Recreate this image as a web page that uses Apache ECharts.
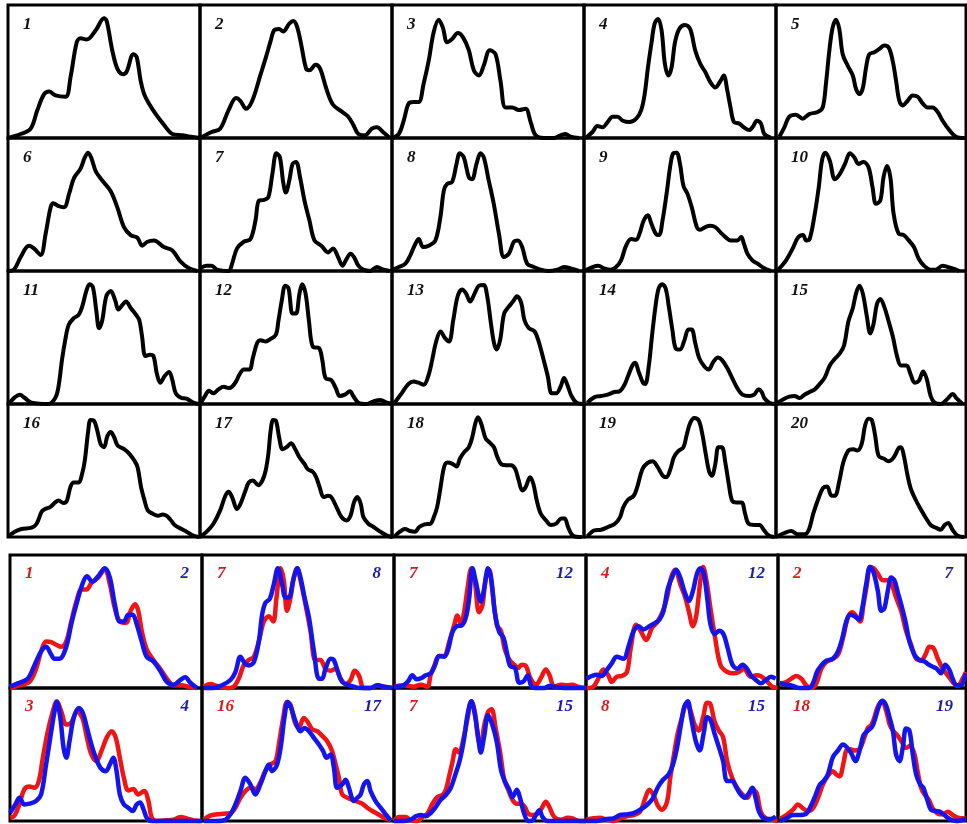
<!DOCTYPE html>
<html lang="en">
<head>
<meta charset="UTF-8">
<script src="https://cdn.jsdelivr.net/npm/echarts@6/dist/echarts.min.js"></script>
<title>curves</title>
<style>
  html, body { margin: 0; padding: 0; background: #fff; }
  #chart { width: 967px; height: 824px; }
</style>
</head>
<body>
<div id="chart"></div>
<script>
// each curve: [x %, height %]
var c1 = [[0,0],[6.6,3],[11.8,7],[15.3,21],[18.8,33],[21.4,35],[24.8,32],[30,31],[32.6,46],[35.8,72],[37.8,75],[41,74],[45.7,81],[50,90],[51.4,88],[54.3,66],[57,52],[60,48],[61.8,50],[65.3,63],[67,61],[69.1,43],[71.2,32],[76,20],[81.2,10],[85.6,3],[90.8,2],[95,1],[100,0]];
var c2 = [[0,0],[6.1,4.5],[10.5,7],[14.9,21],[18.8,30],[21,28],[24,22],[27.2,28],[31.6,48],[34.2,60],[36.8,73],[38.6,81],[41.2,82],[43.3,80],[46.5,86],[48.6,88],[50.5,84],[52.6,71],[55.3,52],[57,51],[60.2,55],[62.6,52],[65.8,37],[69.3,25],[73.7,20],[77.2,16],[79.8,10],[82.5,3],[86,2],[89.5,7],[92.1,8],[95.3,4.5],[98.8,0]];
var c3 = [[0,0],[3.5,3],[6.1,13],[8.7,26],[11.3,27],[13.9,27],[16.5,41],[19.1,58],[21.7,79.5],[24.3,89],[26.5,83],[28.7,72],[31.3,74.5],[34.3,79],[37,75.7],[40,66],[42.6,51],[45.2,47],[47.8,54.5],[50.9,66],[53.9,63],[56.5,43],[59.1,23],[62.6,23],[66.1,21],[69.6,22],[72.2,12],[74.8,2],[79.1,0],[84.3,0],[87.8,2],[90.4,3],[93,1],[97.4,0]];
var c4 = [[0.9,0],[4.4,4.5],[7,9],[9.6,8],[12.3,12],[14.9,16],[17.5,16],[20.2,13],[23.7,12],[27.2,14.5],[29.8,21],[31.6,33],[33.3,53],[35.1,71],[36.8,86],[38.6,89.5],[40.4,81],[42.1,56],[43.9,47],[45.6,53],[47.4,72],[49.6,82],[52.6,85],[55.3,82],[57.9,66],[60.5,56],[63.2,49.5],[65.8,42],[68.4,38],[71.1,43],[72.8,47],[74.6,36],[76.3,23],[78.1,12],[80.7,11],[83.3,8],[86,6],[88.2,9],[90,13],[92.1,11],[93.9,3],[97.4,0]];
var c5 = [[1.8,1],[4.4,8],[7,16],[10.5,17.5],[14,14.5],[17.5,18],[21.9,19.5],[24.6,23],[26.3,41],[28.1,66],[29.8,83],[31.6,89],[33.3,82],[35.1,63],[37.7,54.5],[40.4,47],[42.1,37],[43.9,33],[45.6,37],[47.4,53],[49.1,63],[51.8,64.5],[54.4,67],[57,69.5],[59.3,68],[61.4,58],[63.2,43],[64.9,28],[66.7,24.5],[69.3,28],[71.9,32],[74.6,31],[77.2,26],[79.8,23],[82.5,23],[85.1,19.5],[87.7,13],[91.2,6],[94.7,1],[99.1,0]];
var c6 = [[0,0],[3.1,1],[6.6,10.5],[10.9,19],[13.5,17],[17,12],[19.6,28],[22.2,48],[23.6,51],[26,49],[29.2,48],[31.8,58],[34.4,70],[37.8,77],[39.9,85],[41.7,89],[43.4,85],[45.7,75],[49.1,68],[53.5,60],[56.9,48],[60.4,33],[63.9,27],[67.4,25],[69.9,19],[72.6,22],[76,23],[81.2,18],[85.6,15.5],[89.9,7],[94.3,2],[98.6,0]];
var c7 = [[0,2],[3.5,4],[6.1,4],[8.8,1],[14.9,0],[16.7,5.5],[19.3,17],[22.8,22],[26.3,24],[28.9,38],[30.7,53],[33.3,53.5],[35.6,55.5],[37.7,73],[39.8,88.5],[41.6,85.5],[43.3,67],[44.7,59],[46.5,68],[48.2,80.5],[50,82],[52.1,70.5],[54.4,53],[57,38],[59.6,23],[63.2,19],[66.7,14],[69.3,17],[71.9,10.5],[74.2,4],[76.3,9],[78.4,13],[80.2,10.5],[82.5,4],[85.1,1],[88.6,0],[92.1,3],[95.6,1],[98.8,0]];
var c8 = [[0,0.5],[3.5,3],[7,5.5],[9.6,12],[12.2,20.5],[13.9,24],[16.2,18],[19.1,19],[22.6,23],[25.2,40.5],[27,60.5],[28.7,65.5],[31.3,67],[33.6,80.5],[35.3,88.5],[37.4,85.5],[40,70.5],[41.7,69],[44,80.5],[46.1,88.5],[47.8,85.5],[50.4,68],[53,50.5],[55.7,28],[58.3,10.5],[60.9,13],[63.5,22],[65.6,23],[67.8,18],[70.4,5.5],[73.9,3],[77.4,1],[81.7,0],[86.1,1],[89.6,3],[93,2],[97.4,0]];
var c9 = [[0.9,0.5],[4.4,3],[7.5,4],[10.5,2],[14,1],[16.7,3],[19.3,8],[21.9,19],[24.6,24],[27.2,23.5],[28.9,28],[31.1,38],[33.3,42],[35.1,35.5],[37.4,28],[39.1,27],[40.9,38],[43,58],[45.1,80.5],[46.5,88.5],[48.2,89],[50,80.5],[51.8,64],[53.9,58],[56.1,48],[58.8,33],[60.5,31],[63.2,33],[65.8,34],[68.4,33],[71.1,29],[73.7,25.5],[76.3,23],[79.8,23],[81.9,25.5],[83.3,20.5],[85.1,13],[87.7,8],[90.4,5.5],[93.9,2],[97.4,0]];
var c10 = [[1.2,1],[5.3,8],[8.8,17],[11.5,25],[14.2,27],[15.9,23],[17.7,24],[20.4,43],[22.5,63],[24.3,84],[26,89],[28.3,83],[31,69],[33.6,73],[36.3,80.5],[38.9,88.5],[41.2,85.5],[43.4,80.5],[46,82],[48.7,78],[50.8,63],[52.6,50.5],[54.9,53],[56.6,70.5],[58.4,79],[60.2,70.5],[61.9,43],[64.6,28],[67.3,27],[69.9,23],[72.6,18],[75.2,9],[77.9,4],[81.4,1],[84.1,1],[87.6,4],[90.3,3],[92.9,2],[96.5,0]];
var c11 = [[0.9,1],[3.5,5],[6.1,7],[8.8,4.5],[12.3,1],[21.1,0],[24.6,4.5],[26.3,13],[28.1,33],[29.8,48],[31.6,59.5],[34.2,64.5],[36.8,67],[38.6,73],[40.7,84.5],[42.5,90],[44.2,88],[46,70],[47.4,57],[49.1,63],[51.2,81],[53.5,85],[55.8,78],[57.5,71],[59.6,74.5],[61.4,77],[64,72],[66.7,67],[68.4,63],[69.8,51],[71.6,36],[74,37],[75.8,36],[77.5,23],[79.3,16],[81.6,21],[83.9,24],[85.6,18],[87.4,8],[90.4,4.5],[93,4],[96.5,1],[99.6,0]];
var c12 = [[0.5,1],[2.6,6],[4.7,10],[7,8],[9.6,11],[12.3,13],[14.9,12],[16.7,13],[18.8,17],[20.5,22],[22.8,26],[25.8,26],[27.5,34.5],[29.8,46],[31.6,48],[34.2,47],[36.8,49],[39.5,52],[40.9,63],[42.6,78],[44.4,89],[46.1,87],[48.2,68],[50,68],[51.8,83],[53.2,90],[55,83],[56.7,63],[58.8,43],[62,42],[63.7,33],[65.4,19.5],[68.4,18],[70.7,12],[72.8,6],[75.4,7],[78.1,9.5],[79.8,6],[82.5,1],[86.8,0],[90.4,2],[93.9,3],[97.4,1],[100,0]];
var c13 = [[1.4,1],[5,8],[8.5,15],[11.2,17],[13.8,16],[16.5,14.5],[19.1,22],[20.9,33],[23,47],[25.3,54.5],[27.6,49.5],[29.7,47],[31.9,63],[34.2,81],[36.5,86],[38.6,83],[40.7,77],[43,83],[45.3,89],[47.8,89.5],[49.6,81],[51.3,63],[53.1,46],[54.5,41],[56.3,48],[58.4,68],[60.7,73],[63,77],[65.1,81],[67.3,76],[69,63],[71.3,57],[74.3,54.5],[76.6,46],[79,33],[81.1,21],[83.2,8],[85.5,8],[87.8,13],[89.6,19.5],[91.3,14.5],[93.5,6],[96.1,1],[99.6,0]];
var c14 = [[1.8,1],[5.3,5],[8.8,6],[12.3,7],[15.8,9],[18.4,9.5],[21.1,14.5],[23.2,22],[25.4,29.5],[26.7,31],[28.4,24.5],[30.7,16],[31.9,15],[33.7,28],[35.4,51],[37.2,73],[38.9,87],[40.7,90],[42.5,87],[44.2,73],[46,56],[47.7,42],[50,41],[52.3,48],[54.4,56],[56.1,56],[57.9,46],[60,34.5],[62.8,28],[64.9,26],[67.5,32],[69.8,35],[71.9,33],[74.6,27],[77.2,19.5],[79.8,12],[82.5,7],[86,6],[88.6,7],[90.9,11],[92.6,9],[93.9,4.5],[96.5,1],[100,0]];
var c15 = [[0.9,1],[4.4,4],[7.1,5.5],[9.7,6],[12.4,4.5],[15,7],[17.7,9],[20.4,11],[23,15],[25.7,20],[28.3,29],[31,34],[33.6,38],[35.8,44],[38.1,62],[40.4,72],[42.1,83],[43.9,89],[45.7,83],[47.8,66],[49.6,53],[51.3,60],[53.1,75],[54.9,79],[57,73],[59.3,62],[61.6,50],[63.7,36],[65.8,29],[68.7,29],[70.8,22.5],[73,16],[75.2,17.5],[77.5,24.5],[79.3,19],[81.4,6],[83.5,1],[86.7,0],[90.3,4],[93,7.5],[95.2,4],[98.2,0]];
var c16 = [[0,0.5],[3.5,4],[7,6],[12.3,7],[14.9,10],[17.5,19],[19.3,21],[21.9,22.5],[24.6,26],[26.3,27.5],[28.9,25.5],[30.7,27.5],[32.5,37.5],[34.2,41],[36.8,41],[38.6,47.5],[40,57.5],[41.8,80],[43,88],[44.7,87.5],[46.5,80],[48.2,70],[50,67.5],[51.8,76],[53.5,79],[55.3,75],[57,69],[60.5,66],[63.2,62.5],[65.8,57.5],[67.5,52.5],[69.3,37.5],[71.1,27.5],[72.8,20],[75.4,17.5],[78.1,16],[80.7,17],[82.5,16],[84.6,13],[86.8,9],[90.4,6],[93,4],[96.5,1],[99.6,0]];
var c17 = [[0.5,0.5],[3.5,4],[7,10],[10.5,20],[13.2,31],[14.9,34],[16.7,30],[19.3,21],[21.1,25],[23.7,35],[25.4,41],[27.5,42.5],[30.3,39],[32.5,42.5],[34.2,50],[35.6,62.5],[36.8,80],[38.1,88],[39.5,87.5],[41.2,75],[43,66],[45.1,67.5],[47.4,70.5],[49.6,66],[51.8,60],[54.4,55],[56.1,51],[58.8,49],[60.5,45],[62.3,37.5],[64.4,30],[66.7,31],[68.4,30],[71.1,22.5],[73.7,15],[76.3,12.5],[78.4,16],[80.2,26],[81.9,30],[83.7,25],[85.1,15],[87.7,10],[90.4,7.5],[93.9,4],[97.4,1],[100,0]];
var c18 = [[1.4,0.5],[4.1,4],[6.7,6],[9.4,4.5],[12,4],[14.2,7.5],[17,9.5],[20,10],[21.8,15],[23.5,22.5],[25.3,37.5],[27.1,52.5],[28.8,56],[31.5,55],[33.6,53],[35.4,59],[37.7,64],[40,67.5],[41.8,75],[43.5,86],[44.8,90],[46.5,85],[48.8,74],[50.9,71],[53.1,67.5],[54.9,60],[57.2,54.5],[59.5,54],[62,54],[64.2,51],[66,42.5],[67.8,35],[69.6,37.5],[71.9,45],[73.6,40],[75.4,27.5],[77.5,17.5],[80.2,12.5],[82.8,9],[85.5,10],[88.1,14],[89.9,14],[91.7,7.5],[94.3,1],[98.8,0]];
var c19 = [[1.8,0.5],[5.4,5],[8.9,5.5],[12.5,7.5],[16.1,10],[18.8,15],[20.5,22.5],[22.9,28],[25.9,31],[27.7,37.5],[30.4,51],[33,55.5],[35.7,57],[38.4,52.5],[41.1,46],[42.9,45],[45,51],[46.8,60],[49.1,64.5],[51.8,67.5],[53.6,77.5],[55.4,86],[57.5,89.5],[59.8,87.5],[61.6,77.5],[63.4,62.5],[65.2,49],[66.6,46],[68.4,55],[70,67.5],[71.8,67.5],[73.6,56],[75.4,40],[77.1,27.5],[79.5,26],[82.1,26],[83.9,17.5],[85.7,10],[88.9,9],[91.4,9],[93.8,5],[96.4,1],[99.1,0]];
var c20 = [[0.9,0.5],[4.4,3],[8,4.5],[11.5,2],[15,2],[17.3,5.5],[19.5,17],[22.1,28],[24.8,37],[26.9,38],[29.2,31],[31,31],[33.3,42],[35.4,56],[38.1,65],[40.7,66],[42.8,65],[45.1,70],[46.9,84],[48.7,89],[50.4,88],[52.2,76],[54,61],[56.6,59],[59.3,57],[62,60],[64.6,67],[65.8,67.5],[67.3,61],[69,48],[70.8,37],[73.5,28],[76.1,21],[78.8,14.5],[81.4,9],[84.1,7],[86.7,5.5],[88.8,9],[90.6,10.5],[92.9,5.5],[95.6,1],[99.1,0]];

// overlay pairs (red curve, blue curve)
var p1r = [[0,0],[4.9,2],[10.1,4.5],[13.6,14.5],[16.2,27.5],[18.8,35],[21.5,34.5],[24.1,32.5],[26.7,31],[29.3,35],[31.9,50],[34.6,65],[37.2,74],[39.8,74],[42.4,79],[45.9,83],[49.4,89.5],[52,78],[54.6,60],[57.2,50],[60.4,49],[62.8,58],[65.1,63],[66.8,58],[68.6,43],[71.2,29],[74.7,21],[78.2,14.5],[81.7,7],[85.2,2],[89.5,2],[93,1],[97.4,0]];
var p1b = [[0,1],[4,3.5],[9.2,7],[12.7,17],[16.2,27.5],[18.8,31],[21.5,25],[23.2,22],[25.8,22],[29.3,31],[31.9,48],[34.6,63],[37.7,78],[40.1,84],[42.9,80],[45.9,84],[49.4,90],[52,83],[54.6,63],[57.2,50],[59.3,50],[61.6,55],[63.9,55],[66,48],[68.6,35],[71.2,23.5],[74.7,20],[78.2,13],[81.7,4.5],[85.2,2.5],[88.7,6],[91.3,8],[93.9,4],[97.4,0]];
var p2r = [[0.9,1],[4.3,3],[7.8,1.5],[13,0],[16.5,1],[19.1,7],[21.7,17],[24.3,21],[27,23.5],[29.6,35],[32.2,50],[34.8,54],[37.1,50],[38.8,68],[40.9,90],[42.6,81],[44.3,58],[46.1,68],[47.8,83],[49.6,90],[51.3,81],[53.9,63],[56.5,43],[59.1,21],[61.7,21],[64.3,14.5],[67,13],[69.6,14.5],[72.2,7],[74.8,3],[77.4,6],[79.5,13],[81.7,9.5],[84.3,0],[87.8,0],[91.3,2],[94.8,1],[99.1,0]];
var p2b = [[0.9,0],[6.1,0],[10.4,2],[14.8,6],[17.4,12],[20,23.5],[22.3,18.5],[24.3,17],[27,19.5],[29.6,35],[31.3,55],[33,64],[35.3,67],[37.4,78],[39.5,90],[41.7,78],[43.5,68],[45.2,68],[47.5,81],[49.6,90],[51.3,83],[53.4,68],[55.7,53],[58.3,27.5],[60.9,7],[62.6,7],[64.3,14.5],[67,22],[68.7,21],[70.8,12],[73,4.5],[75.7,2.5],[79.1,1],[82.6,0],[87.8,0],[91.3,2],[94.8,1],[99.1,0]];
var p3r = [[0,1],[5.2,2],[10.4,1],[13.9,2.5],[17.4,1],[19.1,10],[20.9,16.5],[23.5,24],[26.1,24],[28.7,34.5],[31.3,47],[33,54.5],[34.8,48],[36.5,57],[38.3,75],[40.3,90],[42.1,80],[44.3,57],[46.1,62.5],[47.8,83],[49.6,89],[51.3,72.5],[53.6,47],[55.7,43],[57.7,29],[60,21.5],[62.6,17.5],[64.7,15],[66.4,17.5],[68.7,16.5],[71,7.5],[73.9,2.5],[76.5,7.5],[79.1,14],[80.9,10],[83.5,1],[87,2.5],[90.1,2],[93,2.5],[95.7,1],[100,0]];
var p3b = [[0,1],[4.3,1.5],[7.3,5],[9.6,9.5],[11.8,6.5],[14.3,7.5],[16.5,9.5],[19.1,11],[21.2,16.5],[23.5,24],[26.1,23.5],[28.2,29],[30.4,42],[32.7,46.5],[35.1,47],[37.4,53],[39.1,67],[40.9,90],[42.6,80],[45.2,65],[47,75],[49,90],[50.8,80],[52.5,57],[54.8,42],[57,38],[58.8,26.5],[60.5,16.5],[63,15],[65.2,4],[67.5,5],[69.6,9.5],[71.7,1],[74.8,0],[78.3,0],[80.9,1.5],[83.5,1],[88.7,0],[100,0]];
var p4r = [[0.3,0],[3.8,1],[6.4,7],[9,14],[11.6,9.5],[13.4,4.5],[16,8.5],[18.6,9],[21.3,12],[23.3,30],[26.1,47.5],[28.6,42.5],[31.4,36],[34.3,45],[37.3,50],[40.1,58],[42.2,68],[44.3,83],[46.5,89],[49.1,78],[51.7,68],[53.5,58],[55.7,46.5],[57.5,55],[59.6,81],[61,91],[62.7,81],[64.8,60],[67,40],[70.1,17],[73.6,12],[77,11],[79.6,12],[82.2,14.5],[85.7,8.5],[88.9,9.5],[90.9,9],[93.6,6],[97,1],[99.7,0]];
var p4b = [[0.3,7],[3,9],[5.6,10],[8.2,9],[10.8,13.5],[13.4,18.5],[16,23.5],[19.5,22],[22.1,31],[24.7,42.5],[27.4,46.5],[29.9,44],[33.1,46.5],[36.1,49],[38.3,51.5],[40.4,58],[42.5,74],[44.8,83],[47,89],[49.1,83],[51.2,73],[53.5,65.5],[55.7,73],[57.8,86],[59.6,90],[61.3,86],[63.1,68],[64.8,48],[67,40.5],[69.3,43],[71.6,40.5],[73.7,30.5],[76.3,17.5],[78.9,14.5],[81.5,17.5],[83.8,14.5],[85.9,9.5],[88.5,6],[91.1,3.5],[93.7,6],[96.3,8.5],[98.8,7]];
var p5r = [[0.9,3.5],[4.4,4.5],[7.1,7],[9.7,9],[12.4,7],[15,2],[17.7,0],[20.4,3.5],[23,14.5],[25.7,19.5],[29.2,22],[31.9,25],[34.5,37],[37.2,53],[39.5,57],[41.6,54],[43.7,50],[45.5,63],[47.3,78],[49,91],[50.8,90],[53.1,86],[55.8,81],[58.4,81],[60.7,77],[62.8,68],[65.5,58],[68.1,43],[70.8,32.5],[73.5,22],[76.1,21],[78.4,25],[80.5,31],[82.7,30],[85,22],[87.6,14.5],[90.3,9.5],[92.9,4.5],[95.6,1.5],[98.2,7],[100,12]];
var p5b = [[0.9,3.5],[4.4,2.5],[7.1,2],[11.5,0],[16.5,0],[18.6,3.5],[20.7,12],[23,17],[25.7,20.5],[29.2,22],[31.9,27.5],[34.2,37.5],[36.3,50],[38.4,55],[40.7,54],[43,51.5],[44.8,60],[46.9,78],[49,91],[50.8,87],[53.1,73],[54.9,58],[56.6,60],[58.4,73],[60.2,83],[61.9,81],[63.7,72],[65.5,63],[67.8,50],[69.9,35],[72.6,25],[75.2,21],[77.9,20],[80.2,17.5],[82.3,16],[84.4,14.5],[86.7,11],[89,17.5],[91.2,13.5],[92.9,7],[95,2],[97.3,2],[99.1,7],[100,11]];
var p6r = [[0,2.5],[2.3,4],[4.9,12.5],[7.5,24],[10.1,26],[12.7,25],[15,30],[17.1,47.5],[19.7,67.5],[22.3,82.5],[24.4,90],[26.7,82.5],[29.3,72.5],[31.9,74],[34.9,82.5],[37.7,77.5],[40.1,62.5],[42.4,50],[45,45],[47.6,52.5],[50.3,62.5],[52.9,67.5],[55.1,62.5],[57.2,47.5],[59.3,32.5],[61.6,23],[64.2,24],[66.8,20],[69.8,22.5],[72.1,15],[73.8,2.5],[76.4,0],[81.7,0.5],[85.2,1],[88.7,3],[92.1,2],[95.6,0.5],[99.1,0]];
var p6b = [[0,6],[2.8,12.5],[4.9,17.5],[7.5,12.5],[10.1,13],[13.6,15],[16.2,20],[18.8,42.5],[21.5,67.5],[23.2,82.5],[24.4,89.5],[26.2,77.5],[27.9,55],[29.3,47.5],[31,60],[33.2,77.5],[35.9,85],[38,81],[40.1,70],[42.4,57.5],[44.7,47.5],[47.1,40],[49.9,37.5],[52,42.5],[53.8,47.5],[55.5,37.5],[57.2,20],[59.3,12.5],[61.6,10],[63.9,7.5],[66,12.5],[67.7,14],[69.5,9],[71.2,2.5],[73.8,0],[100,0]];
var p7r = [[0.9,1],[4.3,4],[7.8,5],[11.3,5.5],[14.8,6],[17.4,10],[20,17.5],[22.6,22.5],[25.2,25],[27.8,24],[30.4,29],[33,37.5],[35.7,42.5],[38.3,45],[40,57.5],[42.3,77.5],[44.3,89.5],[46.1,87.5],[48.2,75],[50.4,70],[53,77.5],[54.8,75],[57.4,69],[60,67.5],[62.6,64],[65.2,60],[67.8,52.5],[69.6,42.5],[71.3,32.5],[73,20],[75.7,17.5],[78.3,16],[80.9,14.5],[83.5,13],[86.1,10],[88.7,7.5],[91.3,5.5],[94.8,2.5],[98.3,0.5]];
var p7b = [[0.9,0],[7.8,0],[12.2,1],[14.8,5],[17.4,12.5],[20,22.5],[22.6,32.5],[25.2,27.5],[27.8,20],[30.4,27.5],[33,37.5],[34.8,42.5],[36.5,37.5],[39.1,42.5],[41.2,57.5],[42.9,77.5],[44.7,89.5],[46.4,85],[48.7,75],[51.3,67.5],[53.4,70],[55.7,67.5],[58.3,62.5],[60.9,57.5],[63.1,52.5],[64.9,47.5],[67,50],[68.7,40],[70.4,25],[73,27.5],[74.8,31],[76.5,25],[79.1,15],[80.9,17.5],[82.6,20],[84.3,27.5],[86.1,30],[87.8,22.5],[90.4,15],[93,10],[95.7,5],[98.3,0.5]];
var p8r = [[0,0],[2.6,3],[6.1,3],[8.7,0.5],[12.2,0],[14.8,3],[17.4,5.5],[20,13],[22.6,18],[25.2,19.5],[27,23.5],[28.7,33.5],[30.4,44],[32.2,54],[33.9,51.5],[36.2,62],[38.3,77],[40.3,90],[42.1,82],[43.8,62],[45.2,56.5],[47,72],[49,82],[50.8,84],[53,69],[55.3,51.5],[57.4,31],[59.5,23.5],[61.7,16],[63.9,13],[66.1,13],[68.2,10.5],[69.9,5.5],[72.2,4.5],[74.8,5.5],[76.9,9.5],[79.1,14.5],[80.9,10.5],[83.5,3],[87,1],[90.4,2.5],[93,2],[96.5,0],[100,0]];
var p8b = [[0,0],[5.2,0],[8.7,1],[11.3,3.5],[13.9,4.5],[16.5,3.5],[19.1,6],[21.7,10.5],[24.3,16],[27,19.5],[29.6,25],[32.2,36],[34.4,46.5],[36.5,62],[38.3,80],[40.3,90],[42.1,80],[43.8,64],[45.2,51.5],[47,64],[49,79.5],[51.3,72],[53.6,59],[55.7,38.5],[57.7,30],[60,23.5],[61.7,18],[64,23.5],[65.7,17],[67.8,5.5],[69.9,0],[72.2,0.5],[73.9,4.5],[75.7,8],[77.4,3],[80,0],[100,0]];
var p9r = [[0.3,1],[3.8,2],[7.3,2.5],[10.8,1],[14.3,0],[17.8,2],[21.3,3.5],[24.7,4.5],[28.2,7],[30.8,17],[33,23.5],[35.2,19.5],[37.3,12],[39.6,8.5],[42.2,14.5],[43.9,32.5],[45.6,48],[47.7,65.5],[50,78],[52.3,88],[54.4,83],[56.4,73],[58.7,68],[61,78],[63.1,89],[64.8,88],[66.9,75],[69.2,68],[71.4,63],[73.5,45],[76.1,32.5],[78.7,25],[81.4,20],[84,17.5],[86.6,23.5],[88.9,21],[91,7],[93.6,2],[96.3,1],[99.7,0]];
var p9b = [[0.3,0],[5.6,0],[10.8,1.5],[14.3,2],[17.8,4.5],[21.3,5],[24.7,6],[28.2,8.5],[31.7,12],[34.8,17],[37.3,25],[40.1,31],[43,35],[45.3,42.5],[47.4,55],[49.5,73],[51.2,86],[53,90],[54.7,78],[57,61],[59.2,53],[61.3,66],[63.1,78],[64.8,76],[66.9,66],[69.2,55.5],[71.4,45],[73.5,30],[76.1,30],[78.4,25],[80.5,20],[82.6,17.5],[84.9,21],[86.6,25],[88.3,17.5],[90.1,7],[92.7,2],[96.2,1.5],[98.8,3.5]];
var p10r = [[0.9,1.5],[4.4,4.5],[8,8.5],[10.6,12.5],[13.3,9.5],[15.9,7.5],[18.6,9.5],[21.2,17],[23.9,27.5],[26.5,34],[29.2,37.5],[31,35],[32.7,33.5],[34.9,44],[36.3,53],[38.4,54],[40.7,53],[43.4,54],[46,63],[47.8,70],[49.6,72],[51.3,78],[53.1,86],[55.4,90],[57.5,83],[59.3,73],[61.1,68],[63.7,64],[66,59],[68.1,55],[70.3,56.5],[72.6,50],[74.3,37],[76.1,25],[77.9,20],[80.2,16],[82.3,9.5],[85,5.5],[87.6,5],[90.3,7],[92.9,4.5],[95.6,2.5],[98.2,2],[100,1.5]];
var p10b = [[0.9,0],[4.4,2],[8,4.5],[11.5,4.5],[15,5.5],[17.7,12],[20,19.5],[22.1,27],[24.2,30],[26.5,35],[29.2,48],[31.9,53],[34.5,57.5],[36.6,55.5],[38.9,51],[41.2,45],[43.4,53],[45.5,64.5],[47.8,68],[50.1,71],[51.9,78],[53.6,86],[55.4,90.5],[57.5,87],[59.3,78],[61.1,68],[62.8,50],[64.6,45],[66.4,55.5],[68.1,69.5],[69.9,68],[71.7,50],[73.5,35],[75.6,27.5],[77.3,25],[79.6,15],[81.4,8.5],[84.1,7.5],[86.2,7],[88.5,4.5],[91.2,1.5],[94.7,0],[100,1.5]];

var topLabels = ['1','2','3','4','5','6','7','8','9','10','11','12','13','14','15','16','17','18','19','20'];
var pairLabels = [['1','2'],['7','8'],['7','12'],['4','12'],['2','7'],['3','4'],['16','17'],['7','15'],['8','15'],['18','19']];
var topCurves = [c1,c2,c3,c4,c5,c6,c7,c8,c9,c10,c11,c12,c13,c14,c15,c16,c17,c18,c19,c20];
var pairCurves = [[p1r,p1b],[p2r,p2b],[p3r,p3b],[p4r,p4b],[p5r,p5b],[p6r,p6b],[p7r,p7b],[p8r,p8b],[p9r,p9b],[p10r,p10b]];

var chart = echarts.init(document.getElementById('chart'));
var grids = [], xAxes = [], yAxes = [], series = [], texts = [];
var labelFont = 'italic bold 17px "Liberation Serif", "Times New Roman", serif';

function addPanel(left, top, width, height, lines) {
    var i = grids.length;
    grids.push({left: left, top: top, width: width, height: height, show: true,
        borderColor: '#000', borderWidth: 3, backgroundColor: 'rgba(0,0,0,0)'});
    xAxes.push({type: 'value', gridIndex: i, min: 0, max: 100, show: false});
    yAxes.push({type: 'value', gridIndex: i, min: 0, max: 100, show: false});
    lines.forEach(function (l) {
        series.push({type: 'line', xAxisIndex: i, yAxisIndex: i, data: l.data,
            smooth: 0.35, symbol: 'none', clip: false, silent: true,
            lineStyle: {color: l.color, width: l.width}});
    });
}

// top block: 5 x 4 single curves
var colW = 192, rowH = 133;
for (var k = 0; k < 20; k++) {
    var col = k % 5, row = Math.floor(k / 5);
    var L = 8 + col * colW, T = 5 + row * rowH;
    var W = col === 4 ? 190 : colW;
    addPanel(L, T, W, rowH, [{data: topCurves[k], color: '#000', width: 4}]);
    texts.push({type: 'text', left: L + 15, top: T + 11,
        style: {text: topLabels[k], font: labelFont, fill: '#111'}});
}

// bottom block: 5 x 2 overlays
for (var m = 0; m < 10; m++) {
    var bc = m % 5, br = Math.floor(m / 5);
    var bl = 10 + bc * colW, bt = 555 + br * rowH;
    var bw = bc === 4 ? 188 : colW;
    addPanel(bl, bt, bw, rowH, [
        {data: pairCurves[m][0], color: '#f01414', width: 4.5},
        {data: pairCurves[m][1], color: '#1414ee', width: 4.5}
    ]);
    texts.push({type: 'text', left: bl + 15, top: bt + 10,
        style: {text: pairLabels[m][0], font: labelFont, fill: '#d81c1c'}});
    texts.push({type: 'text', right: 967 - (bl + bw) + 13, top: bt + 10,
        style: {text: pairLabels[m][1], font: labelFont, fill: '#1c1caa'}});
}

chart.setOption({
    animation: false,
    backgroundColor: '#fff',
    grid: grids,
    xAxis: xAxes,
    yAxis: yAxes,
    series: series,
    graphic: texts
});
</script>
</body>
</html>
